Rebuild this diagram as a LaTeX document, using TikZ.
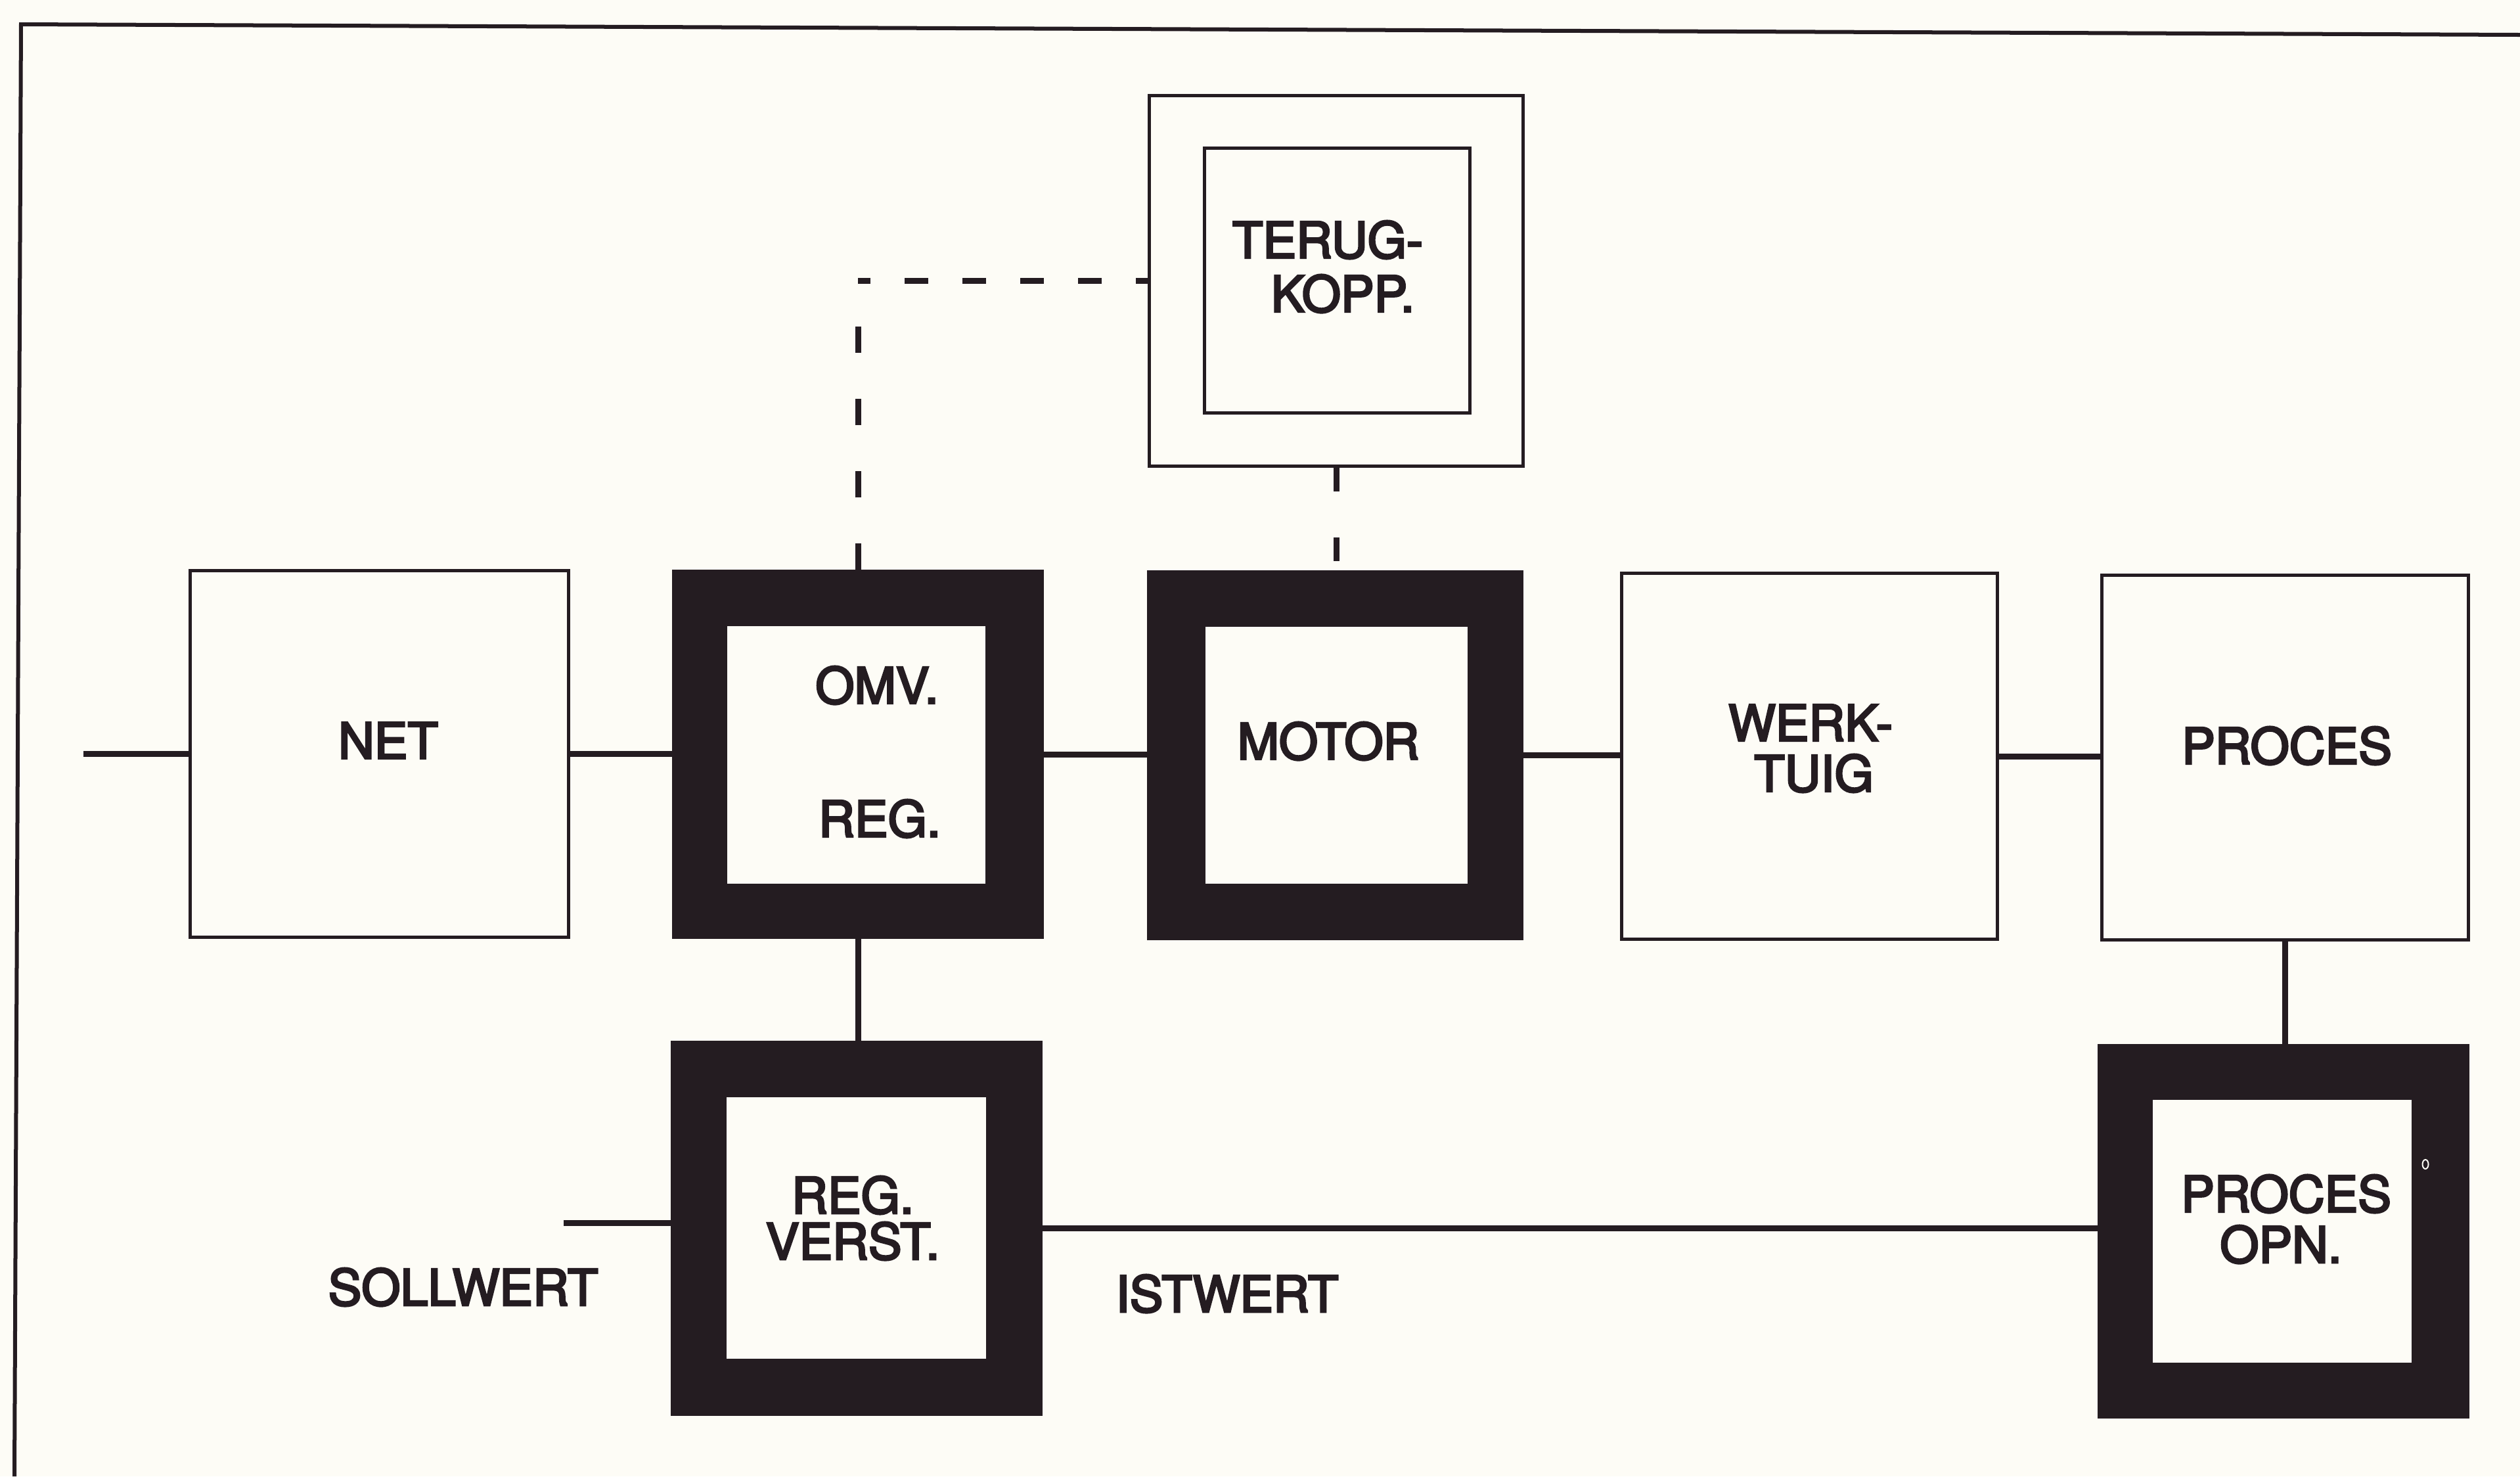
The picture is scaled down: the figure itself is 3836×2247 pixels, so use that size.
\documentclass[tikz,border=0pt]{standalone}
\usepackage{fontspec}
\setmainfont{TeX Gyre Heros}
\newfontfamily\lblfont{TeX Gyre Heros}[FakeBold=4]
\definecolor{ink}{RGB}{36,28,33}
\definecolor{paper}{RGB}{253,252,246}
\begin{document}
\begin{tikzpicture}[x=0.01cm,y=-0.01cm,
  thinbox/.style={draw=ink,line width=0.05cm,fill=paper,inner sep=0pt},
  heavybox/.style={draw=ink,line width=0.03cm,fill=ink,inner sep=0pt},
  hole/.style={fill=paper,inner sep=0pt},
  lbl/.style={text=ink,inner sep=0pt,font=\lblfont\fontsize{21.6}{26}\selectfont},
  wire/.style={draw=ink,line width=0.09cm},
  dashwire/.style={draw=ink,line width=0.09cm,dash pattern=on 0.4cm off 0.7cm},
  frameline/.style={draw=ink,line width=0.06cm}]
\fill[paper] (0,0) rectangle (3836,2247);
\useasboundingbox (0,0) rectangle (3836,2247);
% outer frame (left and top edges only)
\draw[frameline] (3836,53) -- (32,37) -- (22,2247);

% top row
\node[thinbox,minimum width=5.75cm,minimum height=5.57cm] (net) at (577.5,1147.5) {};
\node[heavybox,minimum width=5.62cm,minimum height=5.58cm] (omv) at (1306,1148) {};
\node[hole,minimum width=3.93cm,minimum height=3.92cm] (omvin) at (1303.5,1149) {};
\node[heavybox,minimum width=5.69cm,minimum height=5.59cm] (motor) at (2032.5,1149.5) {};
\node[hole,minimum width=3.99cm,minimum height=3.91cm] (motorin) at (2034.5,1149.5) {};
\node[thinbox,minimum width=5.71cm,minimum height=5.56cm] (werk) at (2754.5,1151) {};
\node[thinbox,minimum width=5.57cm,minimum height=5.54cm] (proc) at (3478.5,1153) {};
% feedback
\node[thinbox,minimum width=5.68cm,minimum height=5.63cm] (terug) at (2034,427.5) {};
\node[thinbox,minimum width=4.03cm,minimum height=4.02cm] (terugin) at (2035.5,427) {};
% bottom row
\node[heavybox,minimum width=5.62cm,minimum height=5.67cm] (regv) at (1304,1869.5) {};
\node[hole,minimum width=3.95cm,minimum height=3.98cm] (regvin) at (1303.5,1869) {};
\node[heavybox,minimum width=5.62cm,minimum height=5.66cm] (popn) at (3476,1874) {};
\node[hole,minimum width=3.94cm,minimum height=4.00cm] (popnin) at (3474,1874) {};

% labels
\node[lbl] (netL) at (591,1127) {NET};
\node[lbl] (omvL) at (1335,1043) {OMV.};
\node[lbl] (omvL2) at (1339,1246) {REG.};
\node[lbl] (motorL) at (2022,1128) {MOTOR};
\node[lbl] (terugL) at (2021,365) {TERUG-};
\node[lbl] (terugL2) at (2044,447) {KOPP.};
\node[lbl] (werkL) at (2756,1100) {WERK-};
\node[lbl] (werkL2) at (2761,1177) {TUIG};
\node[lbl] (procL) at (3481,1135) {PROCES};
\node[lbl] (regvL) at (1298,1819) {REG.};
\node[lbl] (regvL2) at (1298,1889) {VERST.};
\node[lbl] (popnL) at (3480,1817) {PROCES};
\node[lbl] (popnL2) at (3472,1894) {OPN.};
\node[lbl] (sollL) at (705,1959) {SOLLWERT};
\node[lbl] (istL) at (1868,1969) {ISTWERT};

% connectors
\coordinate (in) at (127,1147.5);
\coordinate (soll) at (858,1861);
\draw[wire] (in) -- (net.west);
\draw[wire] (net.east) -- (net.east -| omv.west);
\draw[wire] (omv.east) -- (omv.east -| motor.west);
\draw[wire] (motor.east) -- (motor.east -| werk.west);
\draw[wire] (werk.east) -- (werk.east -| proc.west);
\draw[wire] (omv.south) -- (omv.south |- regv.north);
\draw[wire] (proc.south) -- (proc.south |- popn.north);
\draw[wire] (soll) -- (soll -| regv.west);
\draw[wire] (regv.east) -- (regv.east -| popn.west);

% dashed feedback paths
\coordinate (fbk) at (omv.north |- terug.west);
\draw[dashwire] (omv.north) -- (fbk);
\draw[wire,dash pattern=on 0.36cm off 0.52cm,dash phase=0.17cm] (fbk) -- (terug.west);
\draw[wire,dash pattern=on 0.36cm off 0.7cm] (terug.south) -- (terug.south |- motor.north);

% small mark on the process sensor frame
\draw[paper,line width=0.02cm] (3692,1772) ellipse [x radius=0.045cm, y radius=0.07cm];
\end{tikzpicture}
\end{document}
